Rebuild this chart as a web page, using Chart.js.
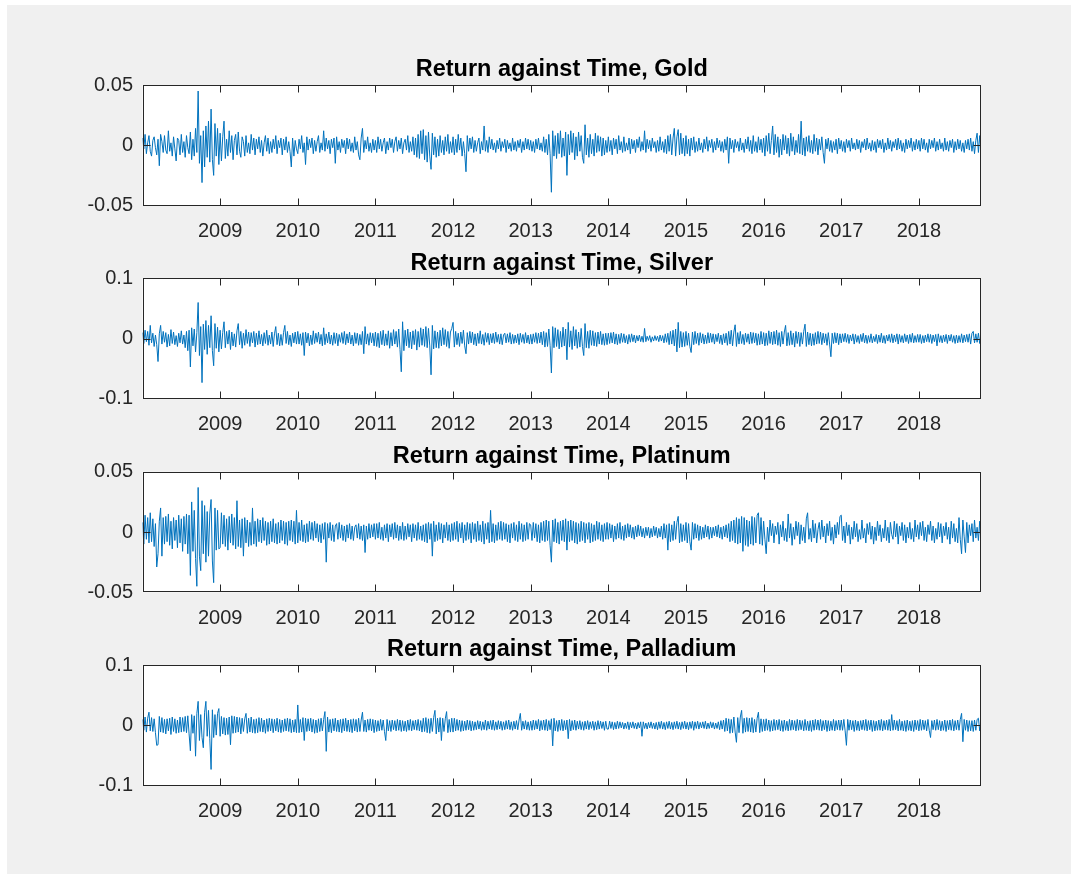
<!DOCTYPE html>
<html>
<head>
<meta charset="utf-8">
<script src="https://cdn.jsdelivr.net/npm/chart.js@4.4.1/dist/chart.umd.min.js"></script>
<style>
html,body{margin:0;padding:0;background:#ffffff;width:1071px;height:874px;overflow:hidden;}
#fig{position:absolute;left:7px;top:5px;width:1064px;height:869px;background:#f0f0f0;}
canvas.cv{position:absolute;left:0;}
</style>
</head>
<body>
<div id="fig"></div>
<canvas id="c0" class="cv" width="1071" height="200"></canvas>
<canvas id="c1" class="cv" width="1071" height="200"></canvas>
<canvas id="c2" class="cv" width="1071" height="200"></canvas>
<canvas id="c3" class="cv" width="1071" height="200"></canvas>
<script>
// ---------------- data ----------------
const START_YEAR = 2008;           // series starts ~1 Jan 2008
const SAMPLES_PER_YEAR = 60;       // values read at ~6-day steps, one row per calendar year
const X_MIN = 2008, X_MAX = 2018.8;
const YEAR_TICKS = [2009, 2010, 2011, 2012, 2013, 2014, 2015, 2016, 2017, 2018];

const TITLES = ["Return against Time, Gold", "Return against Time, Silver",
                "Return against Time, Platinum", "Return against Time, Palladium"];

const Y_TICKS_005 = [-0.05, 0, 0.05];
const Y_LABELS_005 = ["-0.05", "0", "0.05"];
const Y_TICKS_01 = [-0.1, 0, 0.1];
const Y_LABELS_01 = ["-0.1", "0", "0.1"];

// returns in thousandths (x 0.001); one row per year 2008..2018
const GOLD = [
  [6,-3,9,-7,2,8,-5,-9,4,7, -2,-8,5,-17,9,3,-6,8,-4,-7, 12,-5,2,-9,7,-3,-13,6,4,-8, 9,-6,3,-10,8,-2,-7,11,-12,5, -9,14,-6,45,-15,8,-31,12,-18,16, -10,20,-14,30,-12,-25,18,-9,14,-16],
  [10,-13,7,20,-11,5,-9,12,-6,8, -12,4,9,-8,11,-5,-10,7,3,-9, 8,-6,2,-7,9,-4,6,-8,5,-3, 7,-6,4,-9,2,8,-5,6,-7,3, -6,5,-3,8,-7,4,-2,6,-8,5, -4,7,-6,3,-5,-18,6,-9,4,-3],
  [-7,5,-3,8,-6,2,-16,7,-4,5, -2,6,-7,4,-5,3,8,-6,2,-4, 12,-5,6,-3,4,-7,5,-2,6,-15, 7,-4,3,-6,5,-2,4,-7,6,-3, 5,-5,2,-6,7,-4,3,-8,-12,6, 14,-6,4,-3,7,-5,2,-6,5,-4],
  [4,-6,7,-3,5,-5,2,6,-7,3, -4,6,-2,5,-6,3,7,-5,4,-3, 6,-7,2,5,-4,8,-6,3,-5,7, -8,6,-10,9,-11,12,-7,13,-12,8, -14,11,-9,-20,10,-8,7,-10,5,-9, 8,-6,4,-8,7,-5,9,-7,3,-6],
  [7,-8,5,-6,9,-4,6,-9,3,-7, -22,8,-5,6,-3,7,-6,4,-5,2, 6,-7,3,-4,16,-5,4,-6,7,-3, 5,-4,2,-6,4,-3,6,-5,3,-2, 5,-6,4,-3,2,-5,6,-4,3,-5, 4,-2,5,-6,3,-4,6,-3,5,-4],
  [4,-5,3,-6,5,-3,6,-4,2,-5, 7,-6,5,-8,9,-7,-39,12,-9,8, -11,10,-7,12,-10,6,-9,11,-25,9, -8,12,-6,10,-12,7,-9,11,-5,8, -10,-15,17,-8,6,-10,9,-7,5,-9, 10,-6,8,-5,7,-9,6,-8,4,-6],
  [7,-5,4,-8,6,-3,5,-7,8,-4, 3,-6,7,-5,2,-4,6,-7,5,-3, 4,-6,5,-2,7,-5,3,-4,12,-6, 5,-3,4,-5,6,-2,3,-6,4,-5, 7,-4,3,-6,5,-7,8,-5,9,-8, 6,14,-9,7,13,-8,10,-7,6,-9],
  [8,-7,5,-9,6,-4,7,-6,3,-5, 6,-4,2,-6,5,-3,7,-5,4,-2, 5,-6,3,-4,6,-2,4,-5,3,-6, 5,-4,7,-15,6,-3,4,-6,5,-2, 3,-5,6,-4,2,-6,5,-3,7,-5, 4,-7,8,-5,3,-6,7,-4,5,-6],
  [6,-9,8,-5,10,-7,4,16,-8,9, -6,7,-10,5,-8,9,-4,8,-7,6, -9,10,-5,7,-8,4,-6,9,-7,20, -8,6,-9,7,-5,8,-6,4,-7,9, -5,6,-8,5,-4,7,-6,-15,5,-3, 6,-5,4,-6,3,-4,5,-7,6,-3],
  [4,-5,3,-6,5,-2,4,-5,6,-3, 2,-4,5,-3,4,-6,3,-2,5,-4, 6,-3,2,-5,4,-4,3,-6,5,-2, 4,-3,5,-6,2,-4,6,-3,4,-5, 3,-2,5,-4,6,-3,4,-5,2,-6, 5,-3,4,-2,6,-5,3,-4,5,-3],
  [4,-5,6,-3,5,-4,2,-6,5,-3, 4,-2,6,-5,3,-4,5,-3,2,-5, 6,-4,3,-5,4,-2,5,-6,3,-4, 5,-3,4,-5,2,-6,4,-3,5,-4, 6,-5,3,-7,4,10,-6,8,-4]
];

const SILVER = [
  [10,-8,14,-5,12,-11,22,-7,9,-13, 6,-10,-38,8,22,-9,12,-6,10,-14, 7,-12,15,-8,11,-10,5,-13,9,-7, 13,-9,6,-15,12,-20,14,-47,18,-12, 16,-22,10,60,-28,20,-73,24,-18,30, -26,22,-15,38,-20,-45,25,-16,19,-22],
  [14,-17,10,28,-15,12,-9,14,-18,11, -12,8,-14,13,25,-10,12,-16,9,-11, 15,-8,11,-13,10,-7,12,-14,9,-10, 13,-9,7,-12,10,-8,14,-11,6,-9, 11,-13,8,20,-10,9,-12,7,-11,10, 22,-8,12,-10,6,-13,9,-7,11,-9],
  [12,-9,8,-11,10,-28,11,-7,9,-12, 6,-10,13,-8,9,-6,11,-9,7,-12, 18,-10,8,-7,11,-9,6,-11,10,-8, 9,-12,7,-6,10,-8,12,-10,8,-7, 11,-9,6,-12,10,-8,9,-11,7,-10, 12,-25,20,-9,8,-11,10,-7,9,-12],
  [11,-13,9,-15,12,-10,14,-12,8,-11, 13,-16,10,-12,15,-9,12,-14,16,-18, -55,28,-20,14,-12,16,-15,11,-17,13, -10,15,-19,12,-14,18,-11,16,-13,20, -15,17,-12,-60,22,-17,13,-15,11,-16, 14,-12,18,-10,15,-13,12,-16,11,17],
  [27,-14,12,-10,9,-13,11,-8,14,-12, -25,10,-9,12,-7,11,-10,8,-12,9, -8,13,-9,7,-11,10,-6,9,-10,8, -7,9,-8,11,-6,7,-9,8,-10,6, 9,-7,8,-6,10,-9,7,-8,6,-7, 8,-10,9,-6,7,-8,10,-7,6,-9],
  [7,-9,8,-6,10,-8,9,-7,11,-10, 12,-14,10,-13,16,-11,-57,20,-15,18, -13,15,-17,12,-14,19,-12,16,-35,27, -14,13,-18,20,-12,15,-16,11,-14,17, -13,-28,25,-15,12,-16,14,-11,13,-12, 10,-13,11,-9,12,-10,8,-11,9,-10],
  [9,-8,10,-7,11,-9,8,-10,7,-8, 9,-6,8,-7,5,-9,7,-6,8,-5, 6,-7,5,-4,6,-5,4,-6,17,-5, 4,-3,5,-6,3,-4,5,-3,4,-5, 6,-4,5,-7,8,-6,9,-10,12,-9, 14,-12,16,-22,27,-15,12,-14,10,-13],
  [12,-11,9,-13,-23,11,-10,12,-8,9, -11,10,-7,8,-9,6,-8,10,-7,9, -6,8,-9,7,-5,9,-8,6,-10,8, -7,9,-11,12,-9,14,-12,11,23,-13, 10,-9,12,-8,7,-10,9,-6,8,-9, 11,-8,10,-7,9,-11,8,-10,12,-9],
  [10,-12,9,-11,13,-8,11,-10,12,-9, 14,-11,10,-13,12,-9,11,22,-12,10, -11,13,-10,9,-14,12,-8,11,-13,10, -9,12,24,-13,11,-10,9,-12,8,-11, 10,-9,12,-8,11,-10,9,-7,8,-11, 10,-9,-30,9,-8,10,-7,9,-10,8],
  [-7,8,-5,9,-6,7,-8,6,-4,8, -9,7,-6,5,-8,7,-5,9,-7,6, -8,5,-6,8,-7,4,-5,7,-8,6, -6,9,-7,5,-8,6,-4,7,-6,8, -7,6,-5,8,-9,7,-6,5,-7,8, -5,6,-8,7,-6,9,-7,5,-6,7],
  [-6,7,-8,5,-7,6,-5,8,-6,7, -8,6,-5,7,-12,8,-6,5,-7,6, -5,7,-8,6,-4,7,-6,5,-8,6, -7,5,-6,8,-7,6,-5,7,-6,8, -9,9,12,-7,8,-6,9,-8,7]
];

const PLATINUM = [
  [8,-10,14,-6,12,-9,16,-8,11,-12, 7,-29,-18,9,20,-20,12,-10,13,-8, 15,-11,9,-14,12,-7,10,-13,14,-9, 11,-16,13,-10,15,-18,14,-36,25,-16, 18,-22,-45,37,-20,-32,26,-18,22,-25, 17,-20,15,27,-24,-42,20,-15,18,-14],
  [-13,16,-10,14,-12,11,-15,13,-9,15, -11,12,-14,26,-12,10,-13,11,-20,12, -9,10,-12,8,-11,20,-10,9,-12,11, -8,10,-9,12,-7,9,-11,8,-10,9, -8,11,-9,7,-10,8,-9,10,-7,9, -10,8,-11,9,-7,10,-8,9,-10,18],
  [-9,8,-7,10,-8,6,-9,7,-8,9, -6,8,-7,9,-5,7,-8,6,-9,7, -6,8,-25,7,-5,8,-7,6,-8,5, 7,-6,8,-5,6,-7,5,-8,6,-5, 7,-6,5,-7,4,6,-5,7,-6,5, -7,6,-17,5,-6,7,-5,6,-4,7],
  [-6,7,-5,8,-6,4,-7,6,-5,7, -8,6,-4,7,-6,8,-5,6,-7,5, -6,8,-7,5,-6,7,-4,6,-8,7, -5,6,-7,8,-6,5,-7,6,-8,7, -9,8,-6,7,-20,9,-8,6,-7,8, -6,7,-9,6,-5,8,-7,6,-8,7],
  [-7,8,-6,9,-8,7,-5,8,-9,6, -7,8,-6,7,-9,8,-6,7,-8,9, -7,6,-8,9,-10,7,-6,8,-9,18, -8,7,-9,6,-7,8,-6,9,-7,8, -6,7,-8,6,-9,7,-5,8,-7,6, -8,9,-6,7,-8,6,-7,8,-6,7],
  [6,-7,8,-5,7,-8,6,-9,8,-7, 9,-8,10,-7,9,-11,-25,10,-8,11, -9,8,-10,9,-7,10,-8,11,-15,9, -8,10,-7,9,-9,8,-10,7,-8,9, -7,8,-9,7,-6,8,-9,7,-8,6, -7,9,-6,8,-7,6,-8,7,-6,8],
  [-6,7,-5,6,-8,5,-6,7,-5,8, -6,5,-7,6,-5,7,-4,6,-5,4, -6,5,-4,6,-3,5,-4,3,-5,4, -3,4,-5,3,-4,5,-3,4,-5,3, -4,5,-6,7,-5,6,-15,7,-8,6, -7,9,-6,8,13,-9,7,-8,6,-7],
  [8,-9,7,-8,-15,8,-6,7,-5,6, -7,5,-6,4,-5,6,-4,5,-6,4, -5,4,-3,5,-4,6,-5,4,-6,5, -4,6,-5,7,-8,9,-7,10,-9,12, -10,11,-9,13,-16,12,-11,10,-12,9, -10,13,-11,12,-9,14,16,-10,12,-11],
  [9,-6,-18,4,-8,10,-3,7,-9,5, -2,8,-10,6,-4,9,-7,3,-8,15, -5,7,-11,4,-6,9,-3,8,-10,6, -7,4,-9,11,16,-6,3,-8,10,-5, 7,-9,2,8,-6,10,-4,5,-9,7, -3,9,-7,4,-10,6,-5,8,-2,13],
  [14,-7,5,-9,8,-3,6,-10,4,-6, 9,-4,7,-8,2,-6,10,-5,3,-9, 7,-2,8,-6,5,-10,4,-7,9,-3, 6,-8,3,-5,10,-7,4,-9,8,-2, -6,9,-4,7,-10,5,-3,8,-7,6, -9,4,-5,8,-6,3,-8,10,-4,6],
  [-6,8,-3,9,-7,4,-8,6,-2,9, -7,5,-9,3,-6,8,-4,7,-9,5, -3,8,-6,4,-10,9,-5,7,-8,3, -9,12,-6,-18,10,-4,-17,8,-9,6, -3,7,-8,10,-5,4,-7,9,-10]
];

const PALLADIUM = [
  [10,-8,14,-11,12,22,-9,13,-10,11, -12,-33,-32,15,-11,13,-12,10,-14,11, -9,12,-15,14,-10,11,-13,9,-12,14, -11,13,-10,15,-12,16,-14,-42,18,-13, 16,-51,20,40,-25,18,-20,-37,22,40, -18,25,-22,-73,26,-20,18,-16,20,28],
  [-18,15,-14,13,-16,12,-15,14,-32,16, -13,15,-12,14,-11,13,-14,12,-10,11, 20,-13,12,-11,14,-12,10,-13,11,-12, 13,-10,12,-11,9,-13,11,-10,12,-9, 11,-12,10,-9,12,-11,10,-12,9,-10, 11,-9,12,-10,11,-12,9,-11,10,-12],
  [34,-12,10,-11,13,-25,12,-10,11,-9, 12,-11,10,-13,9,-12,11,-10,12,-9, 10,23,-43,14,-11,10,-12,11,-9,12, -10,9,-11,10,-12,11,-9,12,-10,9, -11,10,-12,11,-9,10,-11,12,-10,9, 22,-10,9,-11,10,-8,11,-9,10,-12],
  [9,-10,8,-9,10,-8,9,-10,-25,10, -9,8,-10,9,-7,8,-9,10,-8,9, -10,8,-9,7,-10,9,-8,10,-9,8, -7,9,-8,10,-9,8,-11,12,-10,13, -12,11,-13,12,-10,13,25,-14,12,-11, 13,-25,12,-10,11,23,-12,10,-11,12],
  [-11,12,-9,10,-8,9,-10,8,-9,7, -8,9,-7,8,-9,7,-8,6,-7,8, -6,7,-8,6,-7,9,-8,7,-6,8, -7,9,-8,6,-7,8,-6,7,-8,6, -7,8,-6,9,-7,6,-8,7,-6,8, -7,9,20,-8,7,-6,8,-7,6,-8],
  [7,-8,9,-7,8,-6,10,-9,8,-7, 9,-8,10,-9,8,-7,11,-34,12,-9, 8,-10,9,-8,10,-9,8,-7,9,-22, 10,-9,8,-7,9,-8,7,-6,8,-7, 6,-8,7,-6,8,-7,6,-5,7,-8, 6,-7,8,-6,7,-5,6,-8,7,-6],
  [-6,7,-5,6,-7,5,-6,7,-5,6, -4,5,-6,4,-5,6,-7,5,-4,6, -5,4,-6,5,-4,6,-18,6,-5,4, -6,5,-4,6,-5,4,-6,5,-7,6, -5,7,-6,5,-7,6,-5,7,-6,5, -7,6,-5,7,-6,5,-7,6,-5,7],
  [-6,5,-7,6,-5,7,-8,6,-5,7, -6,5,-4,6,-5,7,-6,4,-5,6, -4,5,-6,4,-5,6,-7,8,-6,9, -10,12,-9,11,-13,10,-12,14,-11,-28, 13,-12,14,25,-13,12,-11,13,-10,12, -11,13,-12,10,-11,12,22,-12,11,-10],
  [10,-9,11,-8,9,-10,8,-9,10,-8, 9,-7,10,-9,8,-10,9,-8,7,-9, 10,-8,9,-7,8,-9,10,-8,9,-7, 8,-9,10,-8,7,-9,8,-10,9,-8, 10,-7,9,-8,10,-9,8,-7,9,-10, 8,-9,7,-8,10,-9,8,-7,9,-8],
  [9,-8,10,-9,-33,10,-8,9,-7,8, -10,9,-8,7,-9,8,-7,9,-8,10, -9,8,-7,9,-10,8,-9,7,-8,9, -8,10,-9,8,-7,9,-8,10,-9,18, -8,9,-7,8,-9,10,-8,7,-9,8, -10,9,-8,7,-9,8,-10,9,-7,8],
  [-9,10,-8,9,-7,8,-9,10,-8,-20, 8,-7,9,-8,10,-7,8,-9,7,-8, 9,-10,8,-7,9,-8,10,-9,8,-7, 9,-8,10,20,-27,10,-8,9,-10,8, -9,8,-10,9,-8,10,12,-9,8]
];

// ---------------- layout / style ----------------
const FONT = "'Liberation Sans', Arial, Helvetica, sans-serif";
const LINE_COLOR = '#0072BD';
const AXIS_COLOR = '#262626';
const TEXT_COLOR = '#262626';
const CANVAS_W = 1071, CANVAS_H = 200;
const CANVAS_TOPS = [40, 233, 426, 619];
const PLOT_TOP0 = 85, PLOT_STEP = 193.4, PLOT_H = 120.5;
const PLOT_LEFT = 142.5, PLOT_RIGHT = 981;
const TITLE_SIZE = 23.5, TITLE_LH = 1.2, TITLE_PAD_B = 1.2;
const TICK_SIZE = 20;
const TICK_LEN = 7;

function toPoints(rows) {
  const pts = [];
  rows.forEach((row, yi) => {
    row.forEach((v, j) => pts.push({ x: START_YEAR + yi + j / SAMPLES_PER_YEAR, y: v / 1000 }));
  });
  return pts;
}

const framePlugin = {
  id: 'frame',
  beforeDraw(chart) {
    const { ctx, chartArea: a } = chart;
    ctx.save();
    ctx.fillStyle = '#ffffff';
    ctx.fillRect(a.left, a.top, a.right - a.left, a.bottom - a.top);
    ctx.restore();
  },
  afterDatasetsDraw(chart) {
    const { ctx, chartArea: a, scales } = chart;
    const L = Math.round(a.left) + 0.5, R = Math.round(a.right) - 0.5;
    const T = Math.round(a.top) + 0.5, B = Math.round(a.bottom) - 0.5;
    ctx.save();
    ctx.strokeStyle = AXIS_COLOR;
    ctx.lineWidth = 1;
    ctx.beginPath();
    for (const t of scales.x.ticks) {
      const px = Math.round(scales.x.getPixelForValue(t.value)) + 0.5;
      ctx.moveTo(px, B); ctx.lineTo(px, B - TICK_LEN);
      ctx.moveTo(px, T); ctx.lineTo(px, T + TICK_LEN);
    }
    for (const t of scales.y.ticks) {
      const py = Math.round(scales.y.getPixelForValue(t.value)) + 0.5;
      if (py <= T + 1 || py >= B - 1) continue;
      ctx.moveTo(L, py); ctx.lineTo(L + TICK_LEN, py);
      ctx.moveTo(R, py); ctx.lineTo(R - TICK_LEN, py);
    }
    ctx.stroke();
    ctx.strokeRect(L, T, R - L, B - T);
    ctx.restore();
  }
};

function makeChart(k, rows, title, yTicks, yLabels) {
  const canvas = document.getElementById('c' + k);
  const cTop = CANVAS_TOPS[k];
  canvas.style.top = cTop + 'px';
  const plotTop = PLOT_TOP0 + PLOT_STEP * k;
  const titleH = TITLE_SIZE * TITLE_LH + TITLE_PAD_B;
  const padTop = plotTop - cTop - titleH;
  const xAxisH = cTop + CANVAS_H - (plotTop + PLOT_H);

  return new Chart(canvas, {
    type: 'line',
    data: {
      datasets: [{
        data: toPoints(rows),
        borderColor: LINE_COLOR,
        borderWidth: 1,
        pointRadius: 0,
        tension: 0,
        fill: false
      }]
    },
    options: {
      responsive: false,
      animation: false,
      events: [],
      layout: { padding: { top: padTop, left: 0, right: CANVAS_W - PLOT_RIGHT, bottom: 0 } },
      plugins: {
        legend: { display: false },
        tooltip: { enabled: false },
        title: {
          display: true,
          text: title,
          fullSize: false,
          color: '#000000',
          font: { family: FONT, size: TITLE_SIZE, weight: 'bold', lineHeight: TITLE_LH },
          padding: { top: 0, bottom: TITLE_PAD_B }
        }
      },
      scales: {
        x: {
          type: 'linear',
          position: 'bottom',
          min: X_MIN,
          max: X_MAX,
          grid: { display: false, drawTicks: false },
          border: { display: false },
          afterBuildTicks: (s) => { s.ticks = YEAR_TICKS.map(v => ({ value: v })); },
          afterFit: (s) => { s.height = xAxisH; },
          ticks: {
            autoSkip: false,
            maxRotation: 0,
            padding: 14,
            color: TEXT_COLOR,
            font: { family: FONT, size: TICK_SIZE },
            callback: (v) => String(v)
          }
        },
        y: {
          type: 'linear',
          position: 'left',
          min: yTicks[0],
          max: yTicks[yTicks.length - 1],
          grid: { display: false, drawTicks: false },
          border: { display: false },
          afterBuildTicks: (s) => { s.ticks = yTicks.map(v => ({ value: v })); },
          afterFit: (s) => { s.width = PLOT_LEFT; },
          ticks: {
            autoSkip: false,
            padding: 9.5,
            color: TEXT_COLOR,
            font: { family: FONT, size: TICK_SIZE },
            callback: (v) => { const i = yTicks.indexOf(v); return i >= 0 ? yLabels[i] : ''; }
          }
        }
      }
    },
    plugins: [framePlugin]
  });
}

makeChart(0, GOLD, TITLES[0], Y_TICKS_005, Y_LABELS_005);
makeChart(1, SILVER, TITLES[1], Y_TICKS_01, Y_LABELS_01);
makeChart(2, PLATINUM, TITLES[2], Y_TICKS_005, Y_LABELS_005);
makeChart(3, PALLADIUM, TITLES[3], Y_TICKS_01, Y_LABELS_01);
</script>
</body>
</html>
